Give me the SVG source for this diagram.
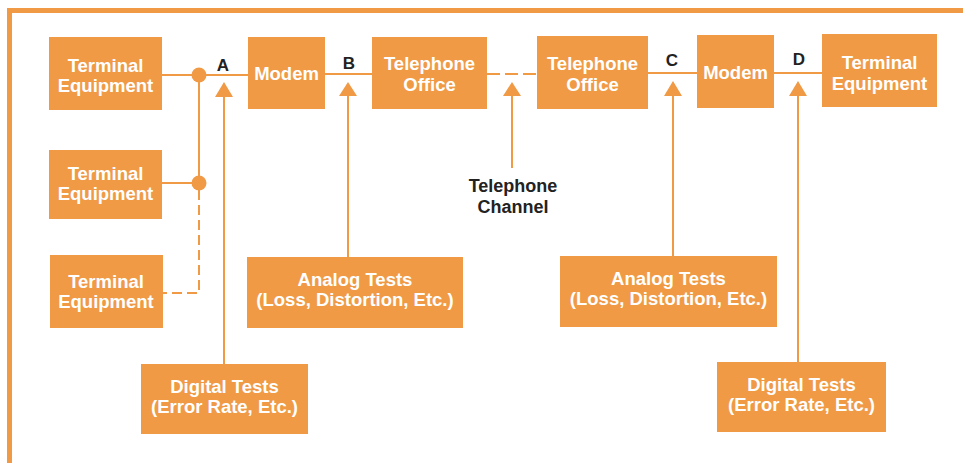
<svg xmlns="http://www.w3.org/2000/svg" width="963" height="463" viewBox="0 0 963 463">
<style>
.box{fill:#F09A46}
.t{font-family:"Liberation Sans",Arial,sans-serif;font-weight:bold;font-size:18.5px;fill:#fff;text-anchor:middle}
.lbl{font-family:"Liberation Sans",Arial,sans-serif;font-weight:bold;font-size:17px;fill:#222;text-anchor:middle}
.ln{stroke:#F09A46;stroke-width:2;fill:none}
.dash{stroke:#F09A46;stroke-width:2;fill:none;stroke-dasharray:10 5}
.ah{fill:#F09A46}
.dot{fill:#F09A46}
</style>
<rect width="963" height="463" fill="#fff"/>
<path d="M9.5 463 V10.5 H963" fill="none" stroke="#F09A46" stroke-width="5"/>

<g id="connectors">
  <line class="ln" x1="162" y1="75" x2="248" y2="75"/>
  <line class="ln" x1="162" y1="183" x2="199" y2="183"/>
  <line class="ln" x1="199" y1="75" x2="199" y2="183"/>
  <path class="dash" d="M199 190 V293 H163"/>
  <circle class="dot" cx="199" cy="75" r="7.5"/>
  <circle class="dot" cx="199" cy="183" r="7.5"/>
  <line class="ln" x1="325" y1="74" x2="372" y2="74"/>
  <line class="ln" x1="487" y1="74" x2="537" y2="74" style="stroke-dasharray:13 5"/>
  <line class="ln" x1="648" y1="73" x2="697" y2="73"/>
  <line class="ln" x1="774" y1="73" x2="822" y2="73"/>
  <line class="ln" x1="224" y1="95" x2="224" y2="364"/>
  <polygon class="ah" points="224,82 215,97 233,97"/>
  <line class="ln" x1="348" y1="95" x2="348" y2="257"/>
  <polygon class="ah" points="348,82 339,96 357,96"/>
  <line class="ln" x1="512" y1="95" x2="512" y2="168"/>
  <polygon class="ah" points="512,82 503,96 521,96"/>
  <line class="ln" x1="673" y1="95" x2="673" y2="256"/>
  <polygon class="ah" points="673,81 664,96 682,96"/>
  <line class="ln" x1="798" y1="95" x2="798" y2="362"/>
  <polygon class="ah" points="798,81 789,96 807,96"/>
  <text class="lbl" x="223" y="71">A</text>
  <text class="lbl" x="349" y="69">B</text>
  <text class="lbl" x="672" y="66">C</text>
  <text class="lbl" x="799" y="65">D</text>
</g>

<g id="te1"><rect class="box" x="49" y="37" width="113" height="73"/>
<text class="t" x="105.5" y="72">Terminal</text><text class="t" x="105.5" y="92">Equipment</text></g>
<g id="te2"><rect class="box" x="49" y="150" width="113" height="69"/>
<text class="t" x="105.5" y="180">Terminal</text><text class="t" x="105.5" y="200">Equipment</text></g>
<g id="te3"><rect class="box" x="50" y="255" width="113" height="73"/>
<text class="t" x="106" y="288">Terminal</text><text class="t" x="106" y="308">Equipment</text></g>
<g id="modem1"><rect class="box" x="248" y="37" width="77" height="72"/>
<text class="t" x="286.5" y="80">Modem</text></g>
<g id="office1"><rect class="box" x="372" y="37" width="115" height="72"/>
<text class="t" x="429.5" y="70">Telephone</text><text class="t" x="429.5" y="91">Office</text></g>
<g id="office2"><rect class="box" x="537" y="36" width="111" height="73"/>
<text class="t" x="592.5" y="70">Telephone</text><text class="t" x="592.5" y="91">Office</text></g>
<g id="modem2"><rect class="box" x="697" y="35" width="77" height="73"/>
<text class="t" x="735.5" y="79">Modem</text></g>
<g id="te4"><rect class="box" x="822" y="34" width="115" height="73"/>
<text class="t" x="879.5" y="69">Terminal</text><text class="t" x="879.5" y="90">Equipment</text></g>
<g id="channel"><text class="lbl" x="513" y="192" style="font-size:18px">Telephone</text><text class="lbl" x="513" y="213" style="font-size:18px">Channel</text></g>
<g id="analog1"><rect class="box" x="247" y="257" width="216" height="71"/>
<text class="t" x="355" y="286">Analog Tests</text><text class="t" x="355" y="306">(Loss, Distortion, Etc.)</text></g>
<g id="analog2"><rect class="box" x="560" y="256" width="217" height="71"/>
<text class="t" x="668.5" y="285">Analog Tests</text><text class="t" x="668.5" y="305">(Loss, Distortion, Etc.)</text></g>
<g id="digital1"><rect class="box" x="141" y="364" width="167" height="70"/>
<text class="t" x="224.5" y="393">Digital Tests</text><text class="t" x="224.5" y="413">(Error Rate, Etc.)</text></g>
<g id="digital2"><rect class="box" x="717" y="362" width="169" height="70"/>
<text class="t" x="801.5" y="391">Digital Tests</text><text class="t" x="801.5" y="411">(Error Rate, Etc.)</text></g>
</svg>
